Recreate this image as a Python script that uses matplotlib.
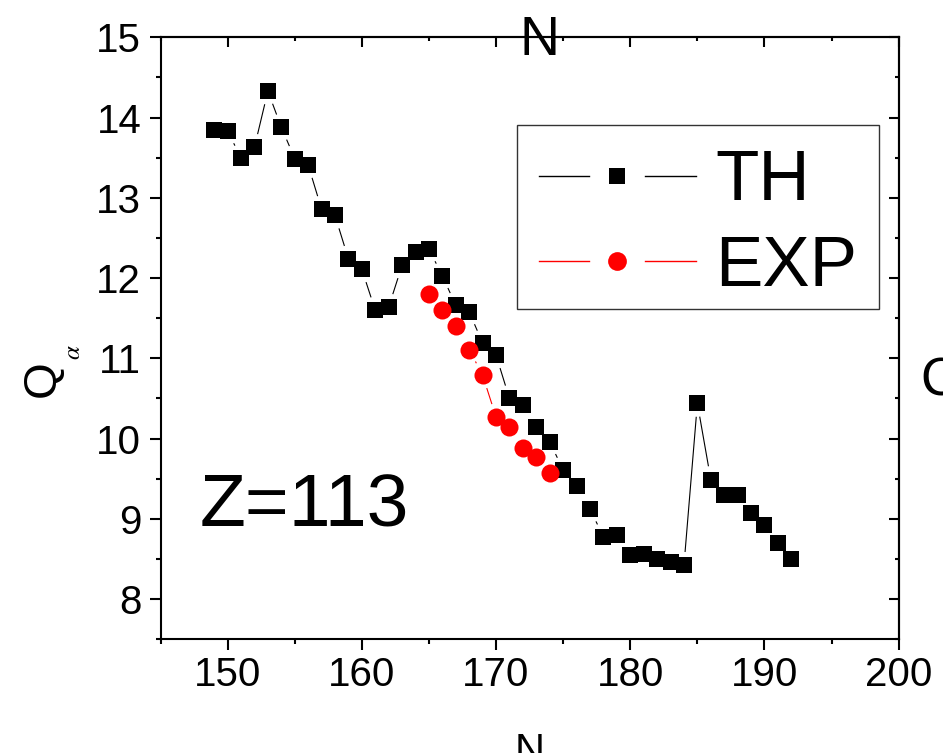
import numpy as np
import matplotlib
matplotlib.use('Agg')
import matplotlib.pyplot as plt
from matplotlib.lines import Line2D
from matplotlib.collections import LineCollection
from matplotlib.legend_handler import HandlerBase
from matplotlib.patches import Rectangle
from matplotlib.ticker import MultipleLocator

plt.rcParams['font.family'] = ['Liberation Sans', 'DejaVu Sans']
plt.rcParams['mathtext.fontset'] = 'stix'

# ---- data ----
th_n = list(range(149, 193))
th_q = [13.84, 13.83, 13.50, 13.63, 14.33, 13.88, 13.49, 13.41, 12.86, 12.78,
        12.24, 12.11, 11.60, 11.64, 12.16, 12.33, 12.36, 12.03, 11.66, 11.58,
        11.19, 11.04, 10.50, 10.42, 10.15, 9.96, 9.61, 9.41, 9.12, 8.78,
        8.80, 8.55, 8.56, 8.50, 8.46, 8.42, 10.44, 9.49, 9.30, 9.30,
        9.07, 8.93, 8.70, 8.50]
exp_n = list(range(165, 175))
exp_q = [11.80, 11.60, 11.40, 11.11, 10.79, 10.27, 10.15, 9.88, 9.77, 9.57]

labels = ['TH', 'EXP']
x_ticks = [150, 160, 170, 180, 190, 200]
y_ticks = [8, 9, 10, 11, 12, 13, 14, 15]

W, H = 943, 753
fig = plt.figure(figsize=(W / 100, H / 100), dpi=100)
L, R, T, B = 160.5, 898.7, 37.3, 639.3
ax = fig.add_axes([L / W, 1 - B / H, (R - L) / W, (B - T) / H])
ax.set_xlim(145, 200)
ax.set_ylim(7.5, 15)

for s in ax.spines.values():
    s.set_linewidth(1.5)

ax.set_xticks(x_ticks)
ax.set_yticks(y_ticks)
ax.xaxis.set_minor_locator(MultipleLocator(5))
ax.yaxis.set_minor_locator(MultipleLocator(0.5))
ax.tick_params(which='both', direction='out', width=1.5, top=False, right=False)
ax.tick_params(which='major', length=7.9)
ax.tick_params(which='minor', length=3.6)
ax.tick_params(axis='x', labelsize=29, pad=4)
ax.tick_params(axis='y', labelsize=29, pad=6)

secx = ax.secondary_xaxis('top')
secx.set_xticks(x_ticks)
secx.xaxis.set_minor_locator(MultipleLocator(5))
secx.tick_params(which='both', direction='in', width=1.5, labeltop=False, labelbottom=False)
secx.tick_params(which='major', length=7.2)
secx.tick_params(which='minor', length=3.2)
secx.spines['top'].set_linewidth(1.5)

secy = ax.secondary_yaxis('right')
secy.set_yticks(y_ticks)
secy.yaxis.set_minor_locator(MultipleLocator(0.5))
secy.tick_params(which='both', direction='in', width=1.5, labelright=False, labelleft=False)
secy.tick_params(which='major', length=7.2)
secy.tick_params(which='minor', length=3.2)
secy.spines['right'].set_linewidth(1.5)


def gapped(xs, ys, gap_px, **kw):
    pts = ax.transData.transform(np.column_stack([xs, ys]))
    inv = ax.transData.inverted()
    segs = []
    for p, q in zip(pts[:-1], pts[1:]):
        d = q - p
        ln = np.hypot(*d)
        if ln > 2 * gap_px:
            u = d / ln
            segs.append(inv.transform(np.array([p + u * gap_px, q - u * gap_px])))
    ax.add_collection(LineCollection(segs, **kw))


gapped(th_n, th_q, 13.5, colors='black', linewidths=0.8, zorder=2)
ax.plot(th_n, th_q, ls='none', marker='s', ms=11.5, mew=0, color='black', zorder=3)
gapped(exp_n, exp_q, 13.5, colors='red', linewidths=0.8, zorder=4)
ax.plot(exp_n, exp_q, ls='none', marker='o', ms=13, mew=0, color='red', zorder=5)


class GapHandler(HandlerBase):
    def __init__(self, gap_pt, lw=1.0):
        super().__init__()
        self.gap = gap_pt
        self.lw = lw

    def create_artists(self, legend, orig_handle, xdescent, ydescent,
                       width, height, fontsize, trans):
        y = (height - ydescent) / 2
        x0 = -xdescent
        x1 = -xdescent + width
        xm = (x0 + x1) / 2
        c = orig_handle.get_color()
        l1 = Line2D([x0, xm - self.gap], [y, y], color=c, lw=self.lw)
        l2 = Line2D([xm + self.gap, x1], [y, y], color=c, lw=self.lw)
        m = Line2D([xm], [y], ls='none', marker=orig_handle.get_marker(),
                   ms=orig_handle.get_markersize(), mew=0, color=c)
        for a in (l1, l2, m):
            a.set_transform(trans)
        return [l1, l2, m]


h_th = Line2D([], [], ls='none', marker='s', ms=12, color='black')
h_exp = Line2D([], [], ls='none', marker='o', ms=13.5, color='#ff0000')
hmap = {h_th: GapHandler(20.2), h_exp: GapHandler(20.2)}
bx0, bx1, by0, by1 = 517, 879, 125, 309
ax.legend([h_th, h_exp], labels, handler_map=hmap, loc='center',
          bbox_to_anchor=((bx0 + bx1) / 2 / W, 1 - ((by0 + by1) / 2 + 8) / H),
          bbox_transform=fig.transFigure, frameon=False, borderpad=0,
          fontsize=51, handlelength=2.216, handletextpad=0.28, labelspacing=0.27)
fig.add_artist(Rectangle((bx0 / W, 1 - by1 / H), (bx1 - bx0) / W, (by1 - by0) / H,
                         transform=fig.transFigure, fill=False,
                         edgecolor='#333333', lw=1.0))

ax.text(0.0535, 0.188, 'Z=113', transform=ax.transAxes, fontsize=54,
        ha='left', va='baseline')

ax.set_xlabel('N', fontsize=30, va='baseline')
ax.xaxis.set_label_coords(0.5, (B - 763) / (B - T))
ax.set_ylabel('Q', fontsize=34, ha='center', va='center', rotation_mode='default')
ax.yaxis.set_label_coords((43 - L) / (R - L), (B - 378.5) / (B - T))
ax.text((72.5 - L) / (R - L), (B - 352.5) / (B - T), r'$\alpha$', transform=ax.transAxes,
        fontsize=18, rotation=90, ha='center', va='center')

# fragments of neighbouring panels
fig.text(540 / W, 1 - 55 / H, 'N', fontsize=40, ha='center', va='baseline', zorder=10)
fig.text(920 / W, 1 - 396 / H, 'C', fontsize=38, ha='left', va='baseline')

fig.savefig('out.png', dpi=100)
